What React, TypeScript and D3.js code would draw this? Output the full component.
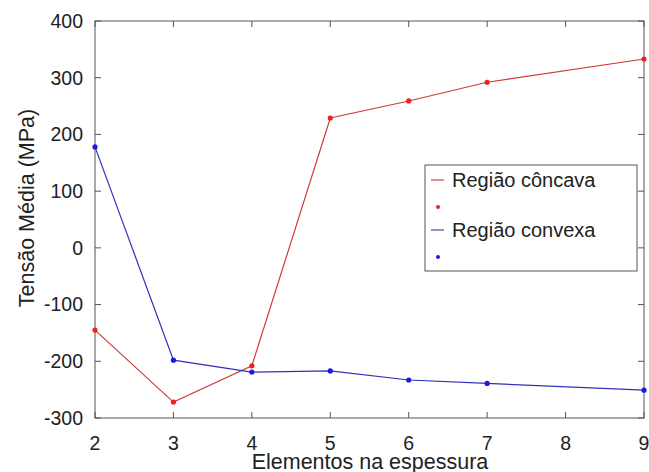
import React, { useEffect, useRef } from 'react';
import * as d3 from 'd3';

const elements = [2, 3, 4, 5, 6, 7, 9];
const concava = [-145, -272, -208, 229, 259, 292, 333];
const convexa = [178, -198, -219, -217, -233, -239, -251];
const xTicks = [2, 3, 4, 5, 6, 7, 8, 9];
const yTicks = [-300, -200, -100, 0, 100, 200, 300, 400];

const W = 649;
const H = 472;
const FONT = '"Liberation Sans", Arial, Helvetica, sans-serif';

const App: React.FC = () => {
  const svgRef = useRef<SVGSVGElement>(null);

  useEffect(() => {
    if (!svgRef.current) return;
    const svg = d3.select(svgRef.current);
    svg.selectAll('*').remove();

    const left = 95, right = 644, top = 21, bottom = 418;
    const x = d3.scaleLinear().domain([2, 9]).range([left, right]);
    const y = d3.scaleLinear().domain([-300, 400]).range([bottom, top]);

    const axisColor = '#555';
    const textColor = '#222';

    // frame
    svg.append('rect')
      .attr('x', left).attr('y', top)
      .attr('width', right - left).attr('height', bottom - top)
      .attr('fill', 'white').attr('stroke', axisColor).attr('stroke-width', 1);

    // inward ticks on all four sides
    const tk = 6;
    xTicks.forEach(t => {
      svg.append('line').attr('x1', x(t)).attr('x2', x(t)).attr('y1', bottom).attr('y2', bottom - tk).attr('stroke', axisColor);
      svg.append('line').attr('x1', x(t)).attr('x2', x(t)).attr('y1', top).attr('y2', top + tk).attr('stroke', axisColor);
      svg.append('text').attr('x', x(t)).attr('y', 450)
        .attr('text-anchor', 'middle').attr('font-family', FONT).attr('font-size', 19.5).attr('fill', textColor)
        .text(t);
    });
    yTicks.forEach(t => {
      svg.append('line').attr('x1', left).attr('x2', left + tk).attr('y1', y(t)).attr('y2', y(t)).attr('stroke', axisColor);
      svg.append('line').attr('x1', right).attr('x2', right - tk).attr('y1', y(t)).attr('y2', y(t)).attr('stroke', axisColor);
      svg.append('text').attr('x', 83).attr('y', y(t)).attr('dy', '0.35em')
        .attr('text-anchor', 'end').attr('font-family', FONT).attr('font-size', 19.5).attr('fill', textColor)
        .text(t);
    });

    // axis labels
    svg.append('text').attr('x', 370).attr('y', 469)
      .attr('text-anchor', 'middle').attr('font-family', FONT).attr('font-size', 21.5).attr('fill', textColor)
      .text('Elementos na espessura');
    svg.append('text')
      .attr('transform', `translate(34,208) rotate(-90)`)
      .attr('text-anchor', 'middle').attr('font-family', FONT).attr('font-size', 21.5).attr('fill', textColor)
      .text('Tensão Média (MPa)');

    const series = [
      { values: concava, line: '#d23a3a', marker: '#ee2020' },
      { values: convexa, line: '#3030b8', marker: '#1a1ae0' },
    ];

    const lineGen = d3.line<number>().x((_, i) => x(elements[i])).y(d => y(d));

    series.forEach(s => {
      svg.append('path').datum(s.values)
        .attr('d', lineGen)
        .attr('fill', 'none').attr('stroke', s.line).attr('stroke-width', 1.2);
      svg.selectAll(null).data(s.values).enter().append('circle')
        .attr('cx', (_, i) => x(elements[i])).attr('cy', d => y(d))
        .attr('r', 2.6).attr('fill', s.marker);
    });

    // legend
    const lg = svg.append('g');
    lg.append('rect').attr('x', 425).attr('y', 165).attr('width', 212).attr('height', 106)
      .attr('fill', 'white').attr('stroke', axisColor).attr('stroke-width', 1);
    const entries = [
      { label: 'Região côncava', color: '#c04848', dot: '#ee2020' },
      { label: 'Região convexa', color: '#4848b0', dot: '#1a1ae0' },
    ];
    entries.forEach((e, i) => {
      const yy = 180 + i * 50;
      lg.append('line').attr('x1', 431).attr('x2', 444).attr('y1', yy).attr('y2', yy)
        .attr('stroke', e.color).attr('stroke-width', 1.2);
      lg.append('text').attr('x', 452).attr('y', yy).attr('dy', '0.35em')
        .attr('font-family', FONT).attr('font-size', 20).attr('fill', textColor)
        .text(e.label);
      lg.append('circle').attr('cx', 438).attr('cy', yy + 27).attr('r', 2).attr('fill', e.dot);
    });
  }, []);

  return (
    <svg ref={svgRef} width={W} height={H}
      style={{ position: 'absolute', left: 0, top: 0, background: 'white', display: 'block' }} />
  );
};

export default App;
